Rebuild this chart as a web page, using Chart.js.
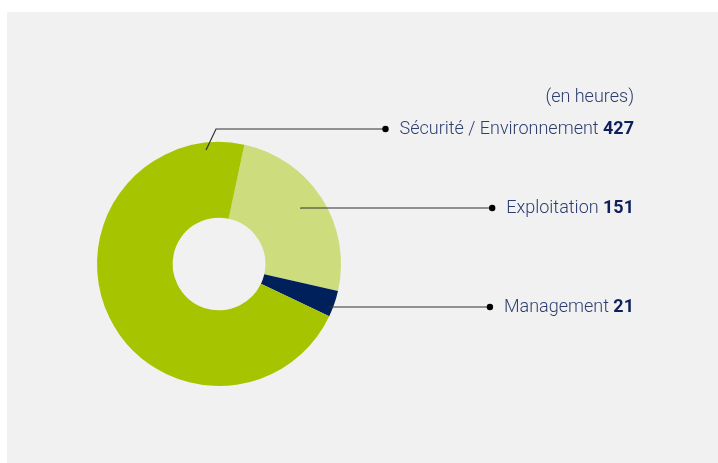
<!DOCTYPE html>
<html>
<head>
<meta charset="utf-8">
<script src="https://cdn.jsdelivr.net/npm/chart.js@4"></script>
<style>
	html, body { margin: 0; padding: 0; background: #fff; }
	#chart { display: block; }
</style>
</head>
<body>
<canvas id="chart" width="718" height="463"></canvas>
<script>
const categories = ['Exploitation', 'Management', 'Sécurité / Environnement']
const hours = [151, 21, 427]
const colors = ['#cddc7c', '#00205b', '#a7c400']
const unitLabel = '(en heures)'

// where each leader line leaves its slice and where its label sits
const leaders = [
	{ angle: 56, r: 0.81, y: 208 },
	{ angle: 111, r: 0.97, y: 307 },
	{ angle: 353.5, r: 0.94, y: 129, elbow: 10 }
]
const textRight = 634

const panel = {
	id: 'panel',
	beforeDraw(chart) {
		const ctx = chart.ctx
		ctx.save()
		ctx.fillStyle = '#f1f1f1'
		ctx.fillRect(7, 12, chart.width - 7, chart.height - 12)
		ctx.restore()
	}
}

const labels = {
	id: 'labels',
	afterDraw(chart) {
		const ctx = chart.ctx
		const arcs = chart.getDatasetMeta(0).data
		ctx.save()
		ctx.textBaseline = 'middle'
		ctx.font = '300 18px Roboto'
		ctx.fillStyle = '#2d3d6e'
		ctx.textAlign = 'right'
		ctx.fillText(unitLabel, textRight, 97)

		arcs.forEach((arc, i) => {
			const l = leaders[i]
			const a = l.angle * Math.PI / 180
			const x0 = arc.x + Math.sin(a) * arc.outerRadius * l.r
			const y0 = arc.y - Math.cos(a) * arc.outerRadius * l.r

			ctx.font = 'bold 18px Roboto'
			const numW = ctx.measureText(String(hours[i])).width
			ctx.font = '300 18px Roboto'
			const nameW = ctx.measureText(categories[i] + ' ').width
			const textLeft = textRight - numW - nameW
			const dotX = textLeft - 14

			ctx.strokeStyle = '#333'
			ctx.lineWidth = 1.2
			ctx.beginPath()
			ctx.moveTo(x0, y0)
			if (l.elbow) {
				ctx.lineTo(x0 + l.elbow, l.y)
			} else {
				ctx.lineTo(x0, l.y)
			}
			ctx.lineTo(dotX, l.y)
			ctx.stroke()

			ctx.fillStyle = '#000'
			ctx.beginPath()
			ctx.arc(dotX, l.y, 3.2, 0, Math.PI * 2)
			ctx.fill()

			ctx.textAlign = 'left'
			ctx.fillStyle = '#2d3d6e'
			ctx.fillText(categories[i] + ' ', textLeft, l.y)
			ctx.font = 'bold 18px Roboto'
			ctx.fillStyle = '#0d1f5c'
			ctx.fillText(String(hours[i]), textLeft + nameW, l.y)
		})
		ctx.restore()
	}
}

new Chart(document.getElementById('chart'), {
	type: 'doughnut',
	data: {
		labels: categories,
		datasets: [{
			data: hours,
			backgroundColor: colors,
			borderWidth: 0
		}]
	},
	options: {
		responsive: false,
		animation: false,
		rotation: 12,
		cutout: '38%',
		layout: {
			padding: { left: 97, top: 142, right: 377, bottom: 77 }
		},
		plugins: {
			legend: { display: false },
			tooltip: { enabled: false }
		}
	},
	plugins: [panel, labels]
})
</script>
</body>
</html>
